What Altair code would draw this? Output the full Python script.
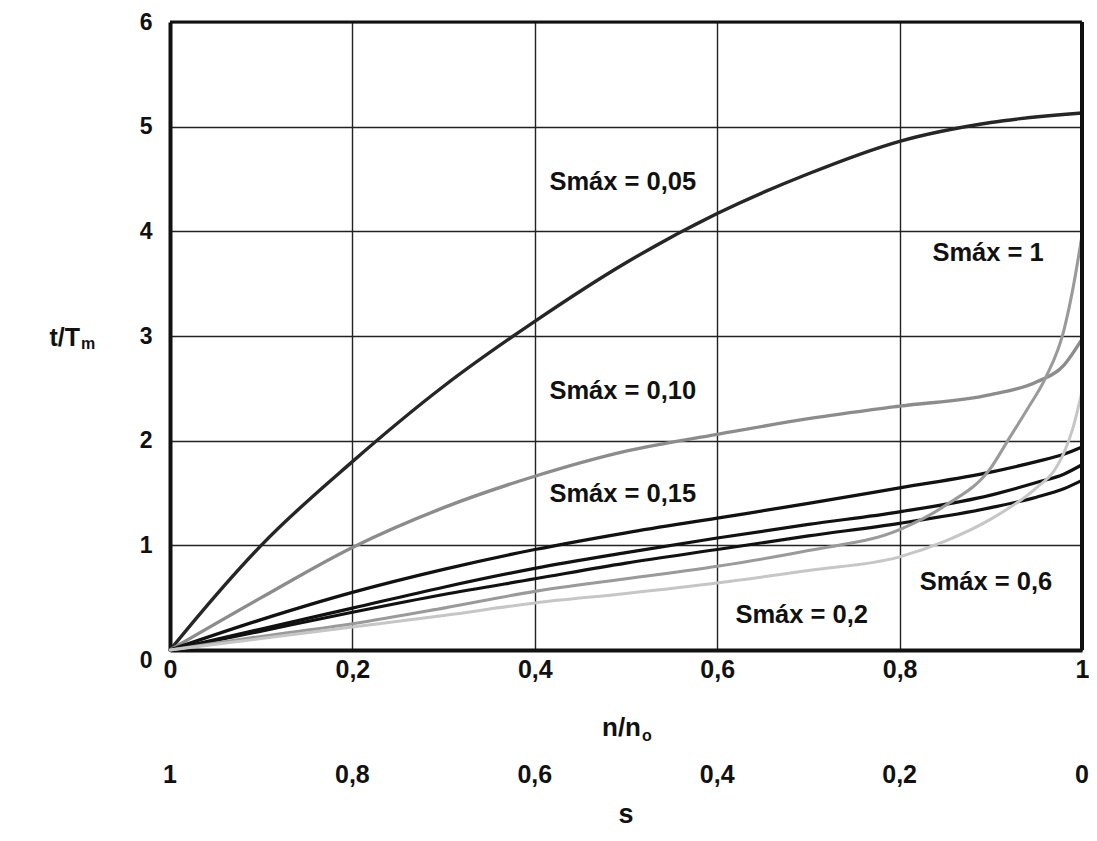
import altair as alt
import pandas as pd

# ---- data ----
n_a = [0, 0.05, 0.1, 0.2, 0.3, 0.4, 0.5, 0.6, 0.7, 0.8, 0.9, 1.0]
t_a = [0, 0.52, 1.00, 1.80, 2.52, 3.14, 3.70, 4.17, 4.55, 4.86, 5.04, 5.13]

n_b = [0, 0.1, 0.2, 0.3, 0.4, 0.5, 0.6, 0.7, 0.8, 0.9, 0.95, 0.98, 1.0]
t_b = [0, 0.50, 0.98, 1.36, 1.66, 1.90, 2.06, 2.21, 2.33, 2.44, 2.56, 2.72, 2.97]

n_c = [0, 0.1, 0.2, 0.3, 0.4, 0.5, 0.6, 0.7, 0.8, 0.9, 0.95, 0.98, 1.0]
t_c1 = [0, 0.29, 0.55, 0.77, 0.96, 1.12, 1.26, 1.40, 1.55, 1.70, 1.80, 1.87, 1.94]
t_c2 = [0, 0.20, 0.40, 0.60, 0.78, 0.93, 1.07, 1.20, 1.32, 1.48, 1.60, 1.68, 1.77]
t_c3 = [0, 0.18, 0.36, 0.53, 0.68, 0.83, 0.96, 1.09, 1.21, 1.36, 1.46, 1.54, 1.62]

n_f = [0, 0.1, 0.2, 0.3, 0.4, 0.5, 0.6, 0.7, 0.8, 0.85, 0.9, 0.92, 0.94, 0.96, 0.98, 0.99, 1.0]
t_f = [0, 0.13, 0.25, 0.40, 0.56, 0.68, 0.80, 0.95, 1.15, 1.38, 1.74, 2.02, 2.30, 2.60, 3.05, 3.45, 3.96]

n_g = [0, 0.1, 0.2, 0.3, 0.4, 0.5, 0.6, 0.7, 0.8, 0.85, 0.9, 0.95, 0.97, 0.98, 0.99, 1.0]
t_g = [0, 0.11, 0.22, 0.33, 0.45, 0.54, 0.64, 0.76, 0.89, 1.04, 1.25, 1.55, 1.72, 1.88, 2.12, 2.47]

curve_names = ["A", "B", "C1", "C2", "C3", "F", "G"]
curve_colors = ["#262626", "#8c8c8c", "#111111", "#111111", "#111111", "#9a9a9a", "#c6c6c6"]
curve_widths = [3.4, 3.0, 3.6, 3.6, 3.6, 2.8, 2.8]

label_text = ["Smáx  = 0,05", "Smáx  = 1", "Smáx  = 0,10", "Smáx  = 0,15", "Smáx  = 0,6", "Smáx  = 0,2"]
label_n = [0.416, 0.836, 0.416, 0.416, 0.822, 0.620]
label_t = [4.47, 3.79, 2.47, 1.49, 0.65, 0.33]

x_ticks = [0, 0.2, 0.4, 0.6, 0.8, 1]
y_ticks = [0, 1, 2, 3, 4, 5, 6]
s_tick_values = [1, 0.8, 0.6, 0.4, 0.2, 0]
s_tick_labels = ["1", "0,8", "0,6", "0,4", "0,2", "0"]

# ---- build tables ----
rows = []
for name, ns, ts in [("A", n_a, t_a), ("B", n_b, t_b), ("C1", n_c, t_c1), ("C2", n_c, t_c2),
                     ("C3", n_c, t_c3), ("F", n_f, t_f), ("G", n_g, t_g)]:
    for i, (n, t) in enumerate(zip(ns, ts)):
        rows.append({"curve": name, "n": n, "t": t, "order": i})
df = pd.DataFrame(rows)

labels_df = pd.DataFrame({"text": label_text, "n": label_n, "t": label_t})
s_df = pd.DataFrame({"s": s_tick_values, "label": s_tick_labels})

BOLD = "Liberation Sans"
NARROW = "Liberation Sans Narrow, Liberation Sans"

xscale = alt.Scale(domain=[0, 1], nice=False, zero=False)
yscale = alt.Scale(domain=[0, 6], nice=False)

x_enc = alt.X("n:Q", scale=xscale, axis=alt.Axis(
    values=x_ticks, title=None, grid=True, ticks=False, labelFlush=False,
    labelExpr="datum.value == 0 || datum.value == 1 ? format(datum.value, 'd') : replace(format(datum.value, '.1f'), '.', ',')",
    labelFont=NARROW, labelFontSize=25, labelFontWeight="bold", labelColor="#111",
    labelPadding=7, domain=True, domainColor="#111", domainWidth=4,
    gridColor="#222", gridWidth=1.4, gridOpacity=1))
y_enc = alt.Y("t:Q", scale=yscale, axis=alt.Axis(
    values=y_ticks, title=None, grid=True, ticks=False, format="d",
    labelFont=BOLD, labelFontSize=23, labelFontWeight="bold", labelColor="#111",
    labelPadding=18, labelOffset={"condition": {"test": "datum.value == 0", "value": 10}, "value": 0},
    domain=True, domainColor="#111", domainWidth=4,
    gridColor="#222", gridWidth=1.4, gridOpacity=1))

lines = alt.Chart(df).mark_line(interpolate="monotone", strokeCap="round").encode(
    x=x_enc, y=y_enc,
    color=alt.Color("curve:N", scale=alt.Scale(domain=curve_names, range=curve_colors), legend=None),
    strokeWidth=alt.StrokeWidth("curve:N", scale=alt.Scale(domain=curve_names, range=curve_widths), legend=None),
    order="order:Q",
)

# top and right frame lines
top_rule = alt.Chart(pd.DataFrame({"t": [6]})).mark_rule(color="#111", strokeWidth=3).encode(
    y=alt.Y("t:Q", scale=yscale))
right_rule = alt.Chart(pd.DataFrame({"n": [1]})).mark_rule(color="#111", strokeWidth=4).encode(
    x=alt.X("n:Q", scale=xscale))

curve_labels = alt.Chart(labels_df).mark_text(
    align="left", baseline="middle", font=BOLD, fontSize=25.5, fontWeight="bold", color="#111"
).encode(x=alt.X("n:Q", scale=xscale), y=alt.Y("t:Q", scale=yscale), text="text:N")

s_labels = alt.Chart(s_df).transform_calculate(n="1 - datum.s").mark_text(
    align="center", baseline="middle", font=NARROW, fontSize=25, fontWeight="bold", color="#111"
).encode(x=alt.X("n:Q", scale=xscale), y=alt.value(753), text="label:N")

title_df = pd.DataFrame({"k": [0]})
def txt(text, x, y, size, align="center", font=NARROW):
    return alt.Chart(title_df).mark_text(
        text=text, align=align, baseline="middle", font=font, fontSize=size,
        fontWeight="bold", color="#111").encode(x=alt.value(x), y=alt.value(y))

titles = [
    txt("n/n", 471, 706, 26, align="right"),
    txt("o", 472, 714, 16, align="left"),
    txt("s", 456, 793, 27),
    txt("t/T", -90, 316, 25, align="right", font=BOLD),
    txt("m", -89, 322, 16, align="left", font=BOLD),
]

chart = alt.layer(lines, top_rule, right_rule, curve_labels, s_labels, *titles).properties(
    width=912, height=628,
    padding={"left": 162, "top": 14, "right": 7, "bottom": 181},
    autosize=alt.AutoSizeParams(type="none"),
).configure_view(stroke=None).configure(background="white")

chart.save("out.html", embed_options={"renderer": "svg", "actions": False})
